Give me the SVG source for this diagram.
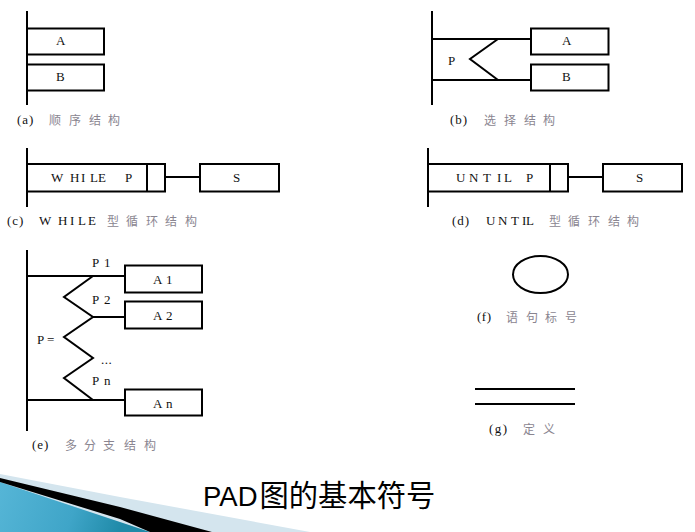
<svg xmlns="http://www.w3.org/2000/svg" width="695" height="532" viewBox="0 0 695 532">
<style>
.l{fill:none;stroke:#000;stroke-width:2}
.b{fill:#fff;stroke:#000;stroke-width:2}
text{font-family:"Liberation Serif","Noto Sans CJK SC",serif;font-size:13px;fill:#111}
.c{font-family:"Noto Sans CJK SC","Liberation Serif",sans-serif;font-size:12px;fill:#8a8590}
.t{font-family:"Liberation Sans","Noto Sans CJK SC",sans-serif;font-size:27.5px;fill:#000}
</style>
<defs>
<linearGradient id="g1" gradientUnits="userSpaceOnUse" x1="0" y1="490" x2="120" y2="532"><stop offset="0" stop-color="#55b5d6"/><stop offset="0.6" stop-color="#3fa5c8"/><stop offset="1" stop-color="#1f8aa8"/></linearGradient>
</defs>
<g id="decor">
<polygon points="0,474 120,497 310,532 0,532" fill="#d4e5ee"/>
<polygon points="0,482 150,532 0,532" fill="url(#g1)"/>
<polygon points="0,478 120,507 212,532 150,532 120,519 0,482" fill="#000"/>
</g>
<g id="connectors">
<path class="l" d="M27 11V105"/>
<path class="l" d="M432 11V105M432 39H531M432 80H531M498 39L470 59L498 80"/>
<path class="l" d="M27 148V207M162 177H200"/>
<path class="l" d="M428 148V207M566 177H603"/>
<path class="l" d="M27 250V431M27 276H125M93 276L64 297L93 317L64 337L93 358L64 378L93 400M93 317H125M27 400H125"/>
</g>
<g id="a">
<rect id="a-A" class="b" x="27" y="28.500" width="77" height="26"/>
<text x="56" y="45">A</text>
<rect id="a-B" class="b" x="27" y="64.500" width="77" height="26"/>
<text x="56" y="81">B</text>
<text x="17" y="124" letter-spacing="1">(a)</text>
<text class="c" x="49 69 89 108" y="125">顺序结构</text>
</g>
<g id="b">
<rect id="b-A" class="b" x="531" y="28.500" width="77.500" height="26"/>
<text x="562" y="45">A</text>
<rect id="b-B" class="b" x="531" y="64.500" width="77.500" height="26"/>
<text x="562" y="81">B</text>
<text x="448" y="65">P</text>
<text x="450" y="124" letter-spacing="1">(b)</text>
<text class="c" x="484 504 524 543" y="125">选择结构</text>
</g>
<g id="c">
<rect class="b" x="27" y="164" width="138" height="27.500"/>
<path class="l" d="M147 164V191"/>
<text x="51 70 81 90 98" y="182">WHILE</text>
<text x="125" y="182">P</text>
<rect id="c-S" class="b" x="200" y="164" width="79" height="27.500"/>
<text x="233" y="182">S</text>
<text x="7" y="225" letter-spacing="1">(c)</text>
<text x="39 58 70 78 88" y="225">WHILE</text>
<text class="c" x="107 126 146 165 185" y="226">型循环结构</text>
</g>
<g id="d">
<rect class="b" x="428" y="164" width="140" height="27.500"/>
<path class="l" d="M550 164V191"/>
<text x="456 469 483 497 504" y="182">UNTIL</text>
<text x="526" y="182">P</text>
<rect id="d-S" class="b" x="603" y="164" width="79" height="27.500"/>
<text x="636" y="182">S</text>
<text x="452" y="225" letter-spacing="1">(d)</text>
<text x="486 498 511 522 526" y="225">UNTIL</text>
<text class="c" x="549 568 588 608 627" y="226">型循环结构</text>
</g>
<g id="e">
<rect id="e-A1" class="b" x="125" y="265.500" width="77" height="27"/>
<text x="153 166" y="284">A1</text>
<rect id="e-A2" class="b" x="125" y="301.500" width="77" height="27"/>
<text x="153 166" y="320">A2</text>
<rect id="e-An" class="b" x="125" y="389.500" width="77" height="26"/>
<text x="153 166" y="408">An</text>
<text x="92 104" y="267">P1</text>
<text x="92 104" y="304">P2</text>
<text x="92 104" y="385">Pn</text>
<text x="37 47" y="344">P=</text>
<text x="101" y="364" letter-spacing="0.500">...</text>
<text x="32" y="449" letter-spacing="1">(e)</text>
<text class="c" x="65 84 103 124 144" y="450">多分支结构</text>
</g>
<g id="f">
<ellipse cx="540.500" cy="274.500" rx="27.500" ry="18.500" class="b"/>
<text x="477" y="321" letter-spacing="0.500">(f)</text>
<text class="c" x="506 526 545 565" y="322">语句标号</text>
</g>
<g id="g">
<path class="l" d="M475 389H575M475 404H575"/>
<text x="489" y="433" letter-spacing="1.500">(g)</text>
<text class="c" x="523 543" y="434">定义</text>
</g>
<g id="title">
<text class="t" x="203" y="506">PAD<tspan font-size="29.300" dx="2">图的基本符号</tspan></text>
</g>
</svg>
